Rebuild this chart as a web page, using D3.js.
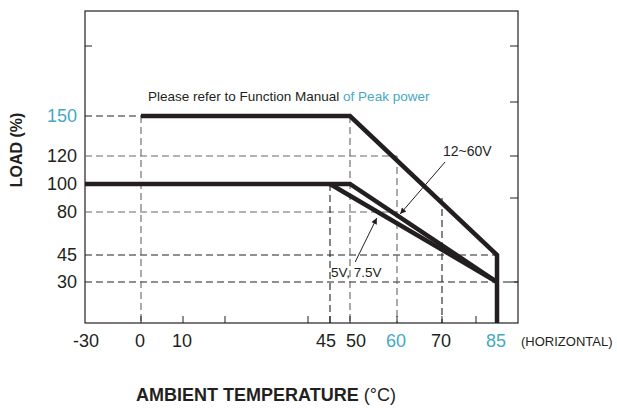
<!DOCTYPE html>
<meta charset="utf-8">
<style>
  body { margin: 0; background: #fff; }
  svg { font-family: "Liberation Sans", Arial, sans-serif; }
</style>
<div id="derating"></div>
<script src="https://d3js.org/d3.v7.min.js"></script>
<script>

// temperature (C) / load (%) curves
var peakCurve = [[0, 150], [50, 150], [85, 45], [85, 0]];
var curve12to60V = [[-30, 100], [50, 100], [85, 30]];
var curve5V = [[45, 100], [85, 30]];

var xLabels = [-30, 0, 10, 45, 50, 60, 70, 85];
var xTealLabels = [60, 85];
var xTicks = [0, 10, 20, 40, 45, 50, 60, 70, 80, 85];
var yLabels = [150, 120, 100, 80, 45, 30];
var yTealLabels = [150];
var rightTicks = [200, 160, 120, 90, 30];
var leftTicks = [200];

// dashed guides: [x0, y0, x1, y1, dark?]
var guides = [
  [-30, 150, 0, 150, 1],
  [-30, 120, 60, 120, 0],
  [-30, 80, 60, 80, 0],
  [-30, 45, 85, 45, 1],
  [-30, 30, 90, 30, 1],
  [0, 150, 0, 0, 0],
  [45, 100, 45, 0, 1],
  [50, 150, 50, 0, 0],
  [60, 120, 60, 0, 0],
  [70, 90, 70, 0, 1]
];

var svg = d3.select("#derating")
            .append("svg")
            .attr("width", 617)
            .attr("height", 410);

var ink = "#231f20",
    teal = "#45a9c3";

// the printed axis is not evenly spaced, so use a piecewise scale
var x = d3.scaleLinear()
    .domain([-30, 0, 10, 20, 40, 45, 50, 60, 70, 80, 85, 90])
    .range([85, 141, 183, 225, 308, 330, 350, 397, 442, 476, 497, 518]);

var y = d3.scaleLinear()
    .domain([0, 30, 45, 80, 100, 120, 150, 225])
    .range([323, 282, 255, 212, 184, 156, 116, 11]);

// labels that sit off their tick in the original
var labelNudge = { "-30": 2, "45": -3, "50": 7 };

// frame
svg.append("rect")
    .attr("x", x(-30))
    .attr("y", y(225))
    .attr("width", x(90) - x(-30))
    .attr("height", y(0) - y(225))
    .attr("fill", "none")
    .attr("stroke", ink)
    .attr("stroke-width", 1.2);

svg.append("g")
  .selectAll("line")
  .data(guides)
  .enter().append("line")
    .attr("x1", function(d) { return x(d[0]); })
    .attr("y1", function(d) { return y(d[1]); })
    .attr("x2", function(d) { return x(d[2]); })
    .attr("y2", function(d) { return y(d[3]); })
    .attr("stroke", function(d) { return d[4] ? "#222" : "#666"; })
    .attr("stroke-width", 1.1)
    .attr("stroke-dasharray", "7,4");

// inward ticks
svg.append("g")
  .selectAll("line")
  .data(xTicks)
  .enter().append("line")
    .attr("x1", x).attr("x2", x)
    .attr("y1", y(0)).attr("y2", y(0) - 7)
    .attr("stroke", ink);

svg.append("g")
  .selectAll("line")
  .data(rightTicks)
  .enter().append("line")
    .attr("x1", x(90)).attr("x2", x(90) - 8)
    .attr("y1", y).attr("y2", y)
    .attr("stroke", ink);

svg.append("g")
  .selectAll("line")
  .data(leftTicks)
  .enter().append("line")
    .attr("x1", x(-30)).attr("x2", x(-30) + 7)
    .attr("y1", y).attr("y2", y)
    .attr("stroke", ink);

// curves
var line = d3.line()
    .x(function(d) { return x(d[0]); })
    .y(function(d) { return y(d[1]); });

svg.append("g")
  .selectAll("path")
  .data([curve5V, curve12to60V, peakCurve])
  .enter().append("path")
    .attr("d", line)
    .attr("fill", "none")
    .attr("stroke", ink)
    .attr("stroke-width", 4.5)
    .attr("stroke-linejoin", "miter");

// axis labels
svg.append("g")
    .attr("font-size", 18)
    .attr("text-anchor", "middle")
  .selectAll("text")
  .data(xLabels)
  .enter().append("text")
    .attr("x", function(d) { return x(d) - 1 + (labelNudge[d] || 0); })
    .attr("y", 347)
    .attr("fill", function(d) { return xTealLabels.indexOf(d) >= 0 ? teal : ink; })
    .text(function(d) { return d; });

svg.append("text")
    .attr("x", 521)
    .attr("y", 346)
    .attr("font-size", 13)
    .attr("fill", ink)
    .text("(HORIZONTAL)");

svg.append("g")
    .attr("font-size", 18)
    .attr("text-anchor", "end")
  .selectAll("text")
  .data(yLabels)
  .enter().append("text")
    .attr("x", 77)
    .attr("y", y)
    .attr("dy", "0.36em")
    .attr("fill", function(d) { return yTealLabels.indexOf(d) >= 0 ? teal : ink; })
    .text(function(d) { return d; });

svg.append("text")
    .attr("transform", "translate(22,150)rotate(-90)")
    .attr("text-anchor", "middle")
    .attr("font-size", 16)
    .attr("font-weight", "bold")
    .attr("fill", ink)
    .text("LOAD (%)");

var xTitle = svg.append("text")
    .attr("x", 266)
    .attr("y", 401)
    .attr("text-anchor", "middle")
    .attr("font-size", 18)
    .attr("fill", ink);
xTitle.append("tspan").attr("font-weight", "bold").text("AMBIENT TEMPERATURE ");
xTitle.append("tspan").text("(°C)");

// notes
var note = svg.append("text")
    .attr("x", 148)
    .attr("y", 101)
    .attr("font-size", 13.5)
    .attr("fill", ink);
note.append("tspan").text("Please refer to Function Manual ");
note.append("tspan").attr("fill", teal).text("of Peak power");

svg.append("text")
    .attr("x", 443)
    .attr("y", 156)
    .attr("font-size", 14)
    .attr("fill", ink)
    .text("12~60V");

svg.append("text")
    .attr("x", 331)
    .attr("y", 277)
    .attr("font-size", 13.5)
    .attr("fill", ink)
    .text("5V, 7.5V");

svg.append("defs").append("marker")
    .attr("id", "head")
    .attr("viewBox", "0 0 10 10")
    .attr("refX", 10)
    .attr("refY", 5)
    .attr("markerWidth", 12)
    .attr("markerHeight", 6)
    .attr("markerUnits", "userSpaceOnUse")
    .attr("orient", "auto")
  .append("path")
    .attr("d", "M0,0L10,5L0,10z")
    .attr("fill", ink);

var arrows = [
  [[70.9, 115.7], [60.7, 78.4]],
  [[51.1, 41.1], [55.7, 75.1]]
];

svg.append("g")
  .selectAll("line")
  .data(arrows)
  .enter().append("line")
    .attr("x1", function(d) { return x(d[0][0]); })
    .attr("y1", function(d) { return y(d[0][1]); })
    .attr("x2", function(d) { return x(d[1][0]); })
    .attr("y2", function(d) { return y(d[1][1]); })
    .attr("stroke", ink)
    .attr("stroke-width", 1)
    .attr("marker-end", "url(#head)");

</script>
